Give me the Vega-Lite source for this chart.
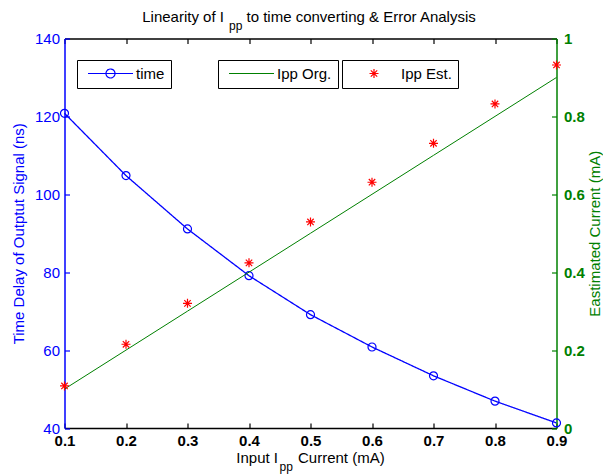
{
  "$schema": "https://vega.github.io/schema/vega-lite/v6.json",
  "width": 492,
  "height": 389.5,
  "autosize": "none",
  "padding": {"left": 64.5, "top": 38.5, "right": 46, "bottom": 48},
  "background": "white",
  "config": {
    "font": "Liberation Sans",
    "view": {"stroke": null},
    "axis": {
      "grid": false,
      "labelFont": "Liberation Sans",
      "titleFont": "Liberation Sans",
      "labelFontSize": 15,
      "titleFontSize": 15,
      "titleFontWeight": "normal",
      "tickSize": -5,
      "domainWidth": 1.5,
      "tickWidth": 1.2
    },
    "legend": {
      "orient": "none",
      "labelFont": "Liberation Sans",
      "labelFontSize": 15,
      "labelColor": "black",
      "strokeColor": "black",
      "fillColor": "white",
      "padding": 6,
      "symbolSize": 100,
      "symbolStrokeWidth": 1.2,
      "labelOffset": 18,
      "symbolOffset": 20
    }
  },
  "datasets": {
    "time": [
      {"current": 0.1, "delay": 120.8},
      {"current": 0.2, "delay": 104.8},
      {"current": 0.3, "delay": 91.1},
      {"current": 0.4, "delay": 79.1},
      {"current": 0.5, "delay": 69.1},
      {"current": 0.6, "delay": 60.8},
      {"current": 0.7, "delay": 53.4},
      {"current": 0.8, "delay": 46.9},
      {"current": 0.9, "delay": 41.3}
    ],
    "ipp": [
      {"current": 0.1, "org": 0.1, "est": 0.108},
      {"current": 0.2, "org": 0.2, "est": 0.215},
      {"current": 0.3, "org": 0.3, "est": 0.32},
      {"current": 0.4, "org": 0.4, "est": 0.424},
      {"current": 0.5, "org": 0.5, "est": 0.529},
      {"current": 0.6, "org": 0.6, "est": 0.631},
      {"current": 0.7, "org": 0.7, "est": 0.731},
      {"current": 0.8, "org": 0.8, "est": 0.832},
      {"current": 0.9, "org": 0.9, "est": 0.932}
    ]
  },
  "layer": [
    {
      "data": {"name": "time"},
      "layer": [
        {
          "mark": {"type": "line", "color": "#0000FF", "strokeWidth": 1.3},
          "encoding": {
            "x": {
              "field": "current", "type": "quantitative",
              "scale": {"domain": [0.1, 0.9], "nice": false},
              "axis": {
                "orient": "bottom", "title": null,
                "values": [0.1, 0.2, 0.3, 0.4, 0.5, 0.6, 0.7, 0.8, 0.9],
                "format": ".1f", "labelFlush": false,
                "labelFontWeight": "bold", "labelColor": "black",
                "domainColor": "black", "tickColor": "black",
                "labelPadding": 10
              }
            },
            "y": {
              "field": "delay", "type": "quantitative",
              "scale": {"domain": [40, 140], "nice": false, "zero": false},
              "axis": {
                "orient": "left",
                "title": "Time Delay of Outptut Signal (ns)",
                "values": [40, 60, 80, 100, 120, 140],
                "format": "d",
                "labelColor": "#0000FF", "titleColor": "#0000FF",
                "domainColor": "#0000FF", "tickColor": "#0000FF",
                "labelPadding": 10, "titlePadding": 8
              }
            },
            "strokeDash": {
              "datum": "time",
              "scale": {"range": [[1, 0]]},
              "legend": {
                "title": null,
                "legendX": 12.5, "legendY": 21.5,
                "symbolType": "M-4.5,0L4.5,0M-0.9,0A0.9,0.9 0 1,0 0.9,0A0.9,0.9 0 1,0 -0.9,0",
                "symbolStrokeColor": "#0000FF",
                "symbolFillColor": "transparent"
              }
            }
          }
        },
        {
          "mark": {"type": "point", "shape": "circle", "size": 64, "color": "#0000FF", "filled": false, "strokeWidth": 1.2, "opacity": 1},
          "encoding": {
            "x": {"field": "current", "type": "quantitative", "scale": {"domain": [0.1, 0.9], "nice": false}},
            "y": {"field": "delay", "type": "quantitative", "scale": {"domain": [40, 140], "nice": false, "zero": false}}
          }
        },
        {
          "data": {"values": [{}]},
          "mark": {"type": "text", "text": "Linearity of I", "align": "right", "baseline": "alphabetic", "fontSize": 15, "color": "black"},
          "encoding": {
            "x": {"datum": 0.3593, "type": "quantitative", "scale": {"domain": [0.1, 0.9], "nice": false}},
            "y": {"datum": 144.3, "type": "quantitative", "scale": {"domain": [40, 140], "nice": false, "zero": false}}
          }
        },
        {
          "data": {"values": [{}]},
          "mark": {"type": "text", "text": "pp", "align": "left", "baseline": "alphabetic", "fontSize": 12, "color": "black"},
          "encoding": {
            "x": {"datum": 0.3675, "type": "quantitative", "scale": {"domain": [0.1, 0.9], "nice": false}},
            "y": {"datum": 142.2, "type": "quantitative", "scale": {"domain": [40, 140], "nice": false, "zero": false}}
          }
        },
        {
          "data": {"values": [{}]},
          "mark": {"type": "text", "text": "to time converting & Error Analysis", "align": "left", "baseline": "alphabetic", "fontSize": 15, "color": "black"},
          "encoding": {
            "x": {"datum": 0.3959, "type": "quantitative", "scale": {"domain": [0.1, 0.9], "nice": false}},
            "y": {"datum": 144.3, "type": "quantitative", "scale": {"domain": [40, 140], "nice": false, "zero": false}}
          }
        },
        {
          "data": {"values": [{}]},
          "mark": {"type": "text", "text": "Input I", "align": "right", "baseline": "alphabetic", "fontSize": 15, "color": "black"},
          "encoding": {
            "x": {"datum": 0.4472, "type": "quantitative", "scale": {"domain": [0.1, 0.9], "nice": false}},
            "y": {"datum": 31.0, "type": "quantitative", "scale": {"domain": [40, 140], "nice": false, "zero": false}}
          }
        },
        {
          "data": {"values": [{}]},
          "mark": {"type": "text", "text": "pp", "align": "left", "baseline": "alphabetic", "fontSize": 12, "color": "black"},
          "encoding": {
            "x": {"datum": 0.4496, "type": "quantitative", "scale": {"domain": [0.1, 0.9], "nice": false}},
            "y": {"datum": 29.0, "type": "quantitative", "scale": {"domain": [40, 140], "nice": false, "zero": false}}
          }
        },
        {
          "data": {"values": [{}]},
          "mark": {"type": "text", "text": "Current (mA)", "align": "left", "baseline": "alphabetic", "fontSize": 15, "color": "black"},
          "encoding": {
            "x": {"datum": 0.4797, "type": "quantitative", "scale": {"domain": [0.1, 0.9], "nice": false}},
            "y": {"datum": 31.0, "type": "quantitative", "scale": {"domain": [40, 140], "nice": false, "zero": false}}
          }
        }
      ]
    },
    {
      "data": {"name": "ipp"},
      "layer": [
        {
          "mark": {"type": "line", "strokeWidth": 1},
          "encoding": {
            "x": {
              "field": "current", "type": "quantitative",
              "scale": {"domain": [0.1, 0.9], "nice": false},
              "axis": {
                "orient": "top", "title": null, "labels": false,
                "values": [0.1, 0.2, 0.3, 0.4, 0.5, 0.6, 0.7, 0.8, 0.9],
                "domainColor": "black", "tickColor": "black"
              }
            },
            "y": {
              "field": "org", "type": "quantitative",
              "scale": {"domain": [0, 1], "nice": false},
              "axis": {
                "orient": "right",
                "title": "Eastimated Current (mA)",
                "titleAngle": 270, "titleBaseline": "top",
                "values": [0, 0.2, 0.4, 0.6, 0.8, 1],
                "format": "~g",
                "labelFontWeight": "bold",
                "labelColor": "#008000", "titleColor": "#008000",
                "domainColor": "#008000", "tickColor": "#008000",
                "labelPadding": 12, "titlePadding": 3
              }
            },
            "color": {
              "datum": "Ipp Org.",
              "scale": {"range": ["#008000"]},
              "legend": {
                "title": null,
                "legendX": 153.5, "legendY": 21.5,
                "symbolType": "M-4.5,0L4.5,0",
                "symbolStrokeColor": "#008000"
              }
            }
          }
        },
        {
          "mark": {"type": "point", "filled": false, "color": "#FF0000", "size": 100, "strokeWidth": 1.2, "opacity": 1},
          "encoding": {
            "x": {"field": "current", "type": "quantitative", "scale": {"domain": [0.1, 0.9], "nice": false}},
            "y": {"field": "est", "type": "quantitative", "scale": {"domain": [0, 1], "nice": false}},
            "shape": {
              "datum": "Ipp Est.",
              "scale": {"range": ["M-0.9,0L0.9,0M0,-0.9L0,0.9M-0.64,-0.64L0.64,0.64M-0.64,0.64L0.64,-0.64"]},
              "legend": {
                "title": null,
                "legendX": 277.5, "legendY": 21.5,
                "symbolStrokeColor": "#FF0000",
                "symbolOffset": 18.5,
                "labelOffset": 19.5
              }
            }
          }
        }
      ]
    }
  ],
  "resolve": {"scale": {"y": "independent"}, "axis": {"x": "independent"}}
}
